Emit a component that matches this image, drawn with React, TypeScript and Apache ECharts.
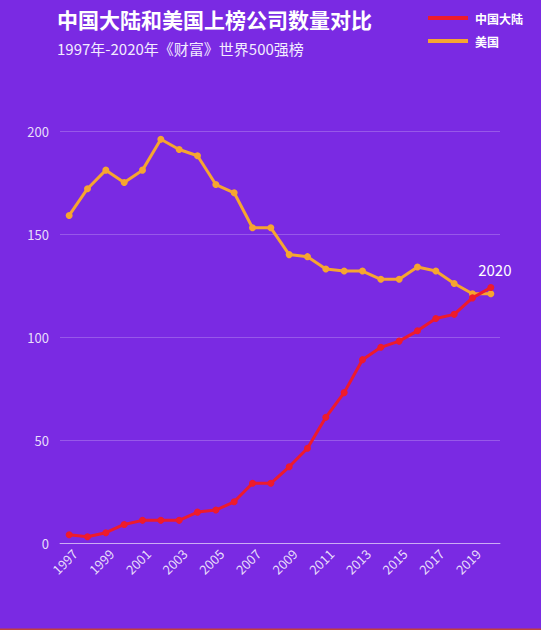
import React, { useEffect, useRef } from "react";
import * as echarts from "echarts";

const years = [
  "1997", "1998", "1999", "2000", "2001", "2002", "2003", "2004", "2005", "2006", "2007", "2008",
  "2009", "2010", "2011", "2012", "2013", "2014", "2015", "2016", "2017", "2018", "2019", "2020",
];
const chinaValues = [4, 3, 5, 9, 11, 11, 11, 15, 16, 20, 29, 29, 37, 46, 61, 73, 89, 95, 98, 103, 109, 111, 119, 124];
const usValues = [159, 172, 181, 175, 181, 196, 191, 188, 174, 170, 153, 153, 140, 139, 133, 132, 132, 128, 128, 134, 132, 126, 121, 121];
const seriesNames = ["中国大陆", "美国"];
const titleText = "中国大陆和美国上榜公司数量对比";
const subtitleText = "1997年-2020年《财富》世界500强榜";
const endLabel = "2020";

const FONT = "'Noto Sans CJK SC', 'Noto Sans', sans-serif";
const RED = "#ee1b2c";
const ORANGE = "#f6a530";

export default function App() {
  const ref = useRef<HTMLDivElement>(null);
  useEffect(() => {
    if (!ref.current) return;
    const chart = echarts.init(ref.current, undefined, { renderer: "svg" });
    chart.setOption({
      animation: false,
      backgroundColor: "#7a2ae3",
      textStyle: { fontFamily: FONT },
      title: {
        text: titleText,
        subtext: subtitleText,
        left: 52,
        top: 3,
        itemGap: 12,
        textStyle: { color: "#ffffff", fontSize: 21, fontWeight: "bold", fontFamily: FONT },
        subtextStyle: { color: "#f3ecff", fontSize: 15, fontFamily: FONT },
      },
      legend: {
        orient: "vertical",
        left: 423,
        top: 7,
        itemWidth: 40,
        itemHeight: 4,
        itemGap: 11,
        icon: "rect",
        textStyle: { color: "#ffffff", fontSize: 12, fontWeight: "bold", fontFamily: FONT, padding: [0, 0, 0, 2] },
        data: [
          { name: seriesNames[0], itemStyle: { color: RED } },
          { name: seriesNames[1], itemStyle: { color: ORANGE } },
        ],
      },
      grid: { left: 60, right: 41, top: 131, bottom: 87 },
      xAxis: {
        type: "category",
        data: years,
        boundaryGap: true,
        axisTick: { show: false },
        axisLine: { lineStyle: { color: "rgba(255,255,255,0.5)", width: 1 } },
        axisLabel: {
          interval: 1,
          rotate: 45,
          margin: 14,
          padding: [0, -8, 0, 0],
          color: "rgba(255,255,255,0.85)",
          fontSize: 13,
          fontFamily: FONT,
        },
      },
      yAxis: {
        type: "value",
        min: 0,
        max: 200,
        interval: 50,
        axisLine: { show: false },
        axisTick: { show: false },
        axisLabel: { color: "rgba(255,255,255,0.85)", fontSize: 13, margin: 11, fontFamily: FONT },
        splitLine: { lineStyle: { color: "rgba(255,255,255,0.22)", width: 1 } },
      },
      series: [
        {
          name: seriesNames[1],
          type: "line",
          data: usValues,
          symbol: "circle",
          symbolSize: 7,
          lineStyle: { color: ORANGE, width: 3 },
          itemStyle: { color: ORANGE },
          z: 2,
        },
        {
          name: seriesNames[0],
          type: "line",
          data: chinaValues.map((v, i) =>
            i === chinaValues.length - 1
              ? {
                  value: v,
                  label: {
                    show: true,
                    position: "top",
                    formatter: endLabel,
                    color: "#ffffff",
                    fontSize: 15,
                    offset: [4, -2],
                    fontFamily: FONT,
                  },
                }
              : v
          ),
          symbol: "circle",
          symbolSize: 7,
          lineStyle: { color: RED, width: 3 },
          itemStyle: { color: RED },
          z: 3,
        },
      ],
      graphic: [
        {
          type: "rect",
          left: 0,
          bottom: 0,
          shape: { width: 541, height: 1.5 },
          style: { fill: "#c2413f" },
        },
      ],
    });
    return () => chart.dispose();
  }, []);
  return (
    <div
      ref={ref}
      style={{ position: "absolute", left: 0, top: 0, width: 541, height: 630 }}
    />
  );
}
